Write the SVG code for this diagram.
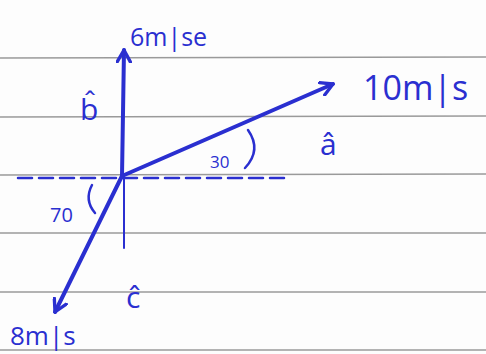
<svg xmlns="http://www.w3.org/2000/svg" width="486" height="354" viewBox="0 0 486 354">
<style>
.rule{stroke:#9a9a9a;stroke-width:1.3}
.ink{stroke:#2a2fd0;fill:none;stroke-linecap:round;stroke-linejoin:round}
.lbl{font-family:"Open Sans","Liberation Sans",sans-serif;fill:#2a2fd0;font-weight:400}
</style>
<defs>
<marker id="ah" viewBox="0 0 12 12" refX="10" refY="6" markerWidth="4" markerHeight="4" orient="auto" markerUnits="strokeWidth">
<path d="M1,1 L10,6 L1,11" fill="none" stroke="#2a2fd0" stroke-width="2.5" stroke-linejoin="round" stroke-linecap="round"/>
</marker>
</defs>
<rect width="486" height="354" fill="#fdfdfd"/>
<g id="paper">
<line class="rule" x1="0" y1="58" x2="486" y2="57"/>
<line class="rule" x1="0" y1="117" x2="486" y2="116"/>
<line class="rule" x1="0" y1="175" x2="486" y2="174"/>
<line class="rule" x1="0" y1="233" x2="486" y2="233"/>
<line class="rule" x1="0" y1="292" x2="486" y2="292"/>
<line class="rule" x1="0" y1="350" x2="486" y2="350"/>
</g>
<g id="connectors">
<line class="ink" x1="18" y1="178" x2="290" y2="178" stroke-width="2.5" stroke-dasharray="14,7"/>
<line class="ink" x1="124" y1="176" x2="124" y2="248" stroke-width="2"/>
<line class="ink" x1="122" y1="176" x2="124" y2="50" stroke-width="4" marker-end="url(#ah)"/>
<line class="ink" x1="122" y1="176" x2="333" y2="84" stroke-width="4" marker-end="url(#ah)"/>
<line class="ink" x1="122" y1="176" x2="55" y2="312" stroke-width="4" marker-end="url(#ah)"/>
<path class="ink" d="M248,130 Q262,150 245,168" stroke-width="2.5"/>
<path class="ink" d="M92,185 Q84,200 95,213" stroke-width="2.5"/>
</g>
<g id="b-vec">
<text class="lbl" x="130" y="46" font-size="25">6m|se</text>
<text class="lbl" x="80" y="120" font-size="30">b̂</text>
</g>
<g id="a-vec">
<text class="lbl" x="363" y="100" font-size="34">10m|s</text>
<text class="lbl" x="320" y="155" font-size="30">â</text>
<text class="lbl" x="210" y="168" font-size="17">30</text>
</g>
<g id="c-vec">
<text class="lbl" x="126" y="308" font-size="30">ĉ</text>
<text class="lbl" x="10" y="345" font-size="26">8m|s</text>
<text class="lbl" x="50" y="222" font-size="20">70</text>
</g>
</svg>
